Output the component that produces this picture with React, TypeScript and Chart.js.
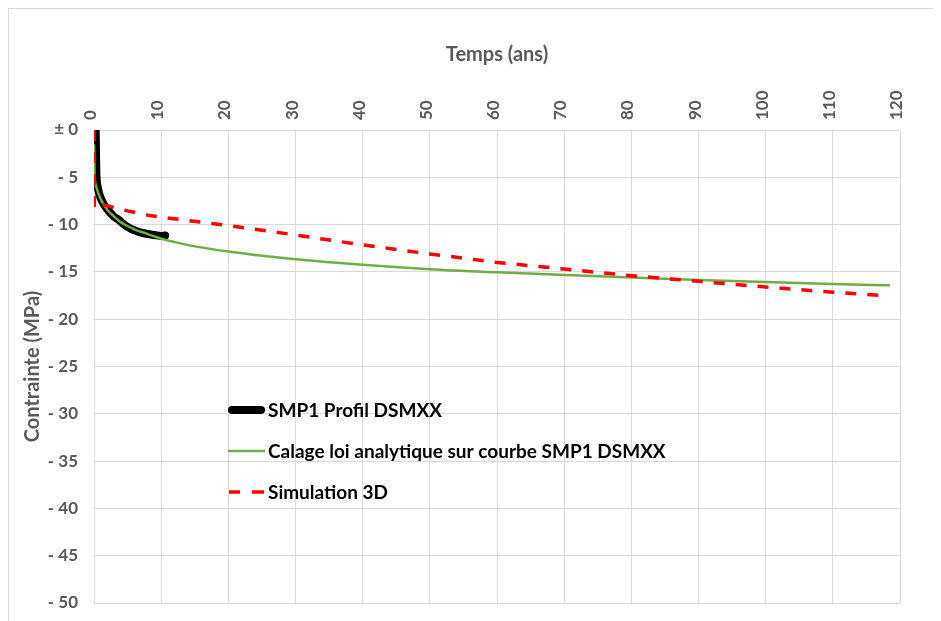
import React, { useEffect, useRef } from "react";
import { Chart, registerables } from "chart.js";

Chart.register(...registerables);

// Temps (ans) / Contrainte (MPa) for each series
const profilT = [0.25, 0.3, 0.35, 0.45, 0.6, 0.8, 1.0, 1.5, 2, 2.5, 3, 3.5, 4, 4.5, 5, 5.5, 6, 7, 8, 9, 10, 10.6];
const profilV = [0, -2.5, -4.5, -5.6, -6.2, -6.8, -7.2, -7.9, -8.4, -8.8, -9.2, -9.4, -9.7, -10.0, -10.25, -10.45, -10.6, -10.85, -11.0, -11.1, -11.2, -11.15];

const calageT = [0.02, 0.05, 0.1, 0.3, 0.6, 1, 1.5, 2, 3, 4, 5, 6, 8, 10, 12, 15, 20, 25, 30, 40, 50, 60, 70, 80, 90, 100, 110, 118.5];
const calageV = [-1.5, -3.5, -4.9, -5.9, -6.6, -7.3, -7.95, -8.45, -9.15, -9.75, -10.15, -10.5, -11.0, -11.5, -11.85, -12.3, -12.85, -13.3, -13.67, -14.25, -14.72, -15.05, -15.33, -15.6, -15.85, -16.07, -16.27, -16.42];

const simT = [0, 0.05, 1.4, 5, 7.5, 11.5, 20, 30, 40, 50, 60, 70, 80, 90, 100, 110, 117.5];
const simV = [0, -8.3, -7.9, -8.55, -8.95, -9.35, -10.1, -11.1, -12.15, -13.1, -14.0, -14.7, -15.4, -16.0, -16.6, -17.15, -17.5];

const seriesNames = [
  "SMP1 Profil DSMXX",
  "Calage loi analytique sur courbe SMP1 DSMXX",
  "Simulation 3D",
];

const xTitle = "Temps (ans)";
const yTitle = "Contrainte (MPa)";

const FONT = "Lato";
const AXIS_GREY = "#595959";
const GRID = "#d9d9d9";
const GREEN = "#70ad47";
const RED = "#ff0000";

const toPoints = (t: number[], v: number[]) => t.map((x, i) => ({ x, y: v[i] }));

// Legend drawn inside the plot area, with a sample stroke per series
const innerLegend = {
  id: "innerLegend",
  afterDatasetsDraw(chart: any) {
    const { ctx, chartArea } = chart;
    const x0 = chartArea.left + 134;
    const y0 = chartArea.top + 280;
    const rowGap = 41;
    ctx.save();
    ctx.font = `bold 19px ${FONT}`;
    ctx.fillStyle = "#000000";
    ctx.textBaseline = "middle";
    ctx.textAlign = "left";

    // black thick
    ctx.beginPath();
    ctx.strokeStyle = "#000000";
    ctx.lineWidth = 8;
    ctx.lineCap = "round";
    ctx.moveTo(x0 + 4, y0);
    ctx.lineTo(x0 + 33, y0);
    ctx.stroke();
    ctx.fillText(seriesNames[0], x0 + 40, y0 + 1);

    // green
    const y1 = y0 + rowGap;
    ctx.beginPath();
    ctx.strokeStyle = GREEN;
    ctx.lineWidth = 2.5;
    ctx.lineCap = "butt";
    ctx.moveTo(x0, y1);
    ctx.lineTo(x0 + 37, y1);
    ctx.stroke();
    ctx.fillText(seriesNames[1], x0 + 40, y1 + 1);

    // red dashed
    const y2 = y0 + rowGap * 2;
    ctx.beginPath();
    ctx.strokeStyle = RED;
    ctx.lineWidth = 3.5;
    ctx.moveTo(x0 + 1, y2);
    ctx.lineTo(x0 + 12, y2);
    ctx.moveTo(x0 + 24, y2);
    ctx.lineTo(x0 + 36, y2);
    ctx.stroke();
    ctx.fillText(seriesNames[2], x0 + 40, y2 + 1);
    ctx.restore();
  },
};

export default function App() {
  const canvasRef = useRef<HTMLCanvasElement | null>(null);

  useEffect(() => {
    if (!canvasRef.current) return;
    const chart = new Chart(canvasRef.current, {
      type: "line",
      data: {
        datasets: [
          {
            label: seriesNames[0],
            data: toPoints(profilT, profilV),
            borderColor: "#000000",
            borderWidth: 8,
            borderCapStyle: "round",
            borderJoinStyle: "round",
            pointRadius: 0,
            cubicInterpolationMode: "monotone",
            order: 3,
          },
          {
            label: seriesNames[1],
            data: toPoints(calageT, calageV),
            borderColor: GREEN,
            borderWidth: 2.5,
            pointRadius: 0,
            cubicInterpolationMode: "monotone",
            order: 2,
          },
          {
            label: seriesNames[2],
            data: toPoints(simT, simV),
            borderColor: RED,
            borderWidth: 3.5,
            borderDash: [11, 11],
            pointRadius: 0,
            tension: 0,
            order: 1,
          },
        ],
      },
      options: {
        animation: false,
        responsive: true,
        maintainAspectRatio: false,
        parsing: false as any,
        layout: { padding: { left: 0, top: 0, right: 41, bottom: 18 } },
        plugins: {
          legend: { display: false },
          tooltip: { enabled: false },
        },
        scales: {
          x: {
            type: "linear",
            position: "top",
            min: 0,
            max: 120,
            ticks: {
              stepSize: 10,
              minRotation: 90,
              maxRotation: 90,
              padding: 10,
              labelOffset: 17,
              color: AXIS_GREY,
              font: { family: FONT, size: 17, weight: "bold" },
            },
            grid: { color: GRID, lineWidth: 1, drawTicks: false },
            border: { color: GRID, width: 1 },
            title: {
              display: true,
              text: xTitle,
              color: AXIS_GREY,
              font: { family: FONT, size: 20, weight: "bold" },
              padding: { top: 34, bottom: 0 },
            },
            afterFit(scale: any) {
              scale.height = 121;
              scale.paddingLeft = 0;
              scale.paddingRight = 0;
            },
          },
          y: {
            type: "linear",
            min: -50,
            max: 0,
            ticks: {
              stepSize: 5,
              padding: 16,
              color: AXIS_GREY,
              font: { family: FONT, size: 17, weight: "bold" },
              callback: (v: any) => (Number(v) === 0 ? "± 0" : "- " + Math.abs(Number(v))),
            },
            grid: { color: GRID, lineWidth: 1, drawTicks: false },
            border: { color: GRID, width: 1 },
            title: {
              display: true,
              text: yTitle,
              color: AXIS_GREY,
              font: { family: FONT, size: 20, weight: "bold" },
              padding: { top: 12, bottom: 0 },
            },
            afterFit(scale: any) {
              scale.width = 85;
              scale.paddingTop = 0;
              scale.paddingBottom = 0;
            },
          },
        },
      } as any,
      plugins: [innerLegend],
    });
    return () => chart.destroy();
  }, []);

  return (
    <div
      style={{
        position: "relative",
        width: 932,
        height: 612,
        borderLeft: `1px solid ${GRID}`,
        borderTop: `1px solid ${GRID}`,
        background: "#ffffff",
      }}
    >
      <canvas ref={canvasRef} />
    </div>
  );
}
